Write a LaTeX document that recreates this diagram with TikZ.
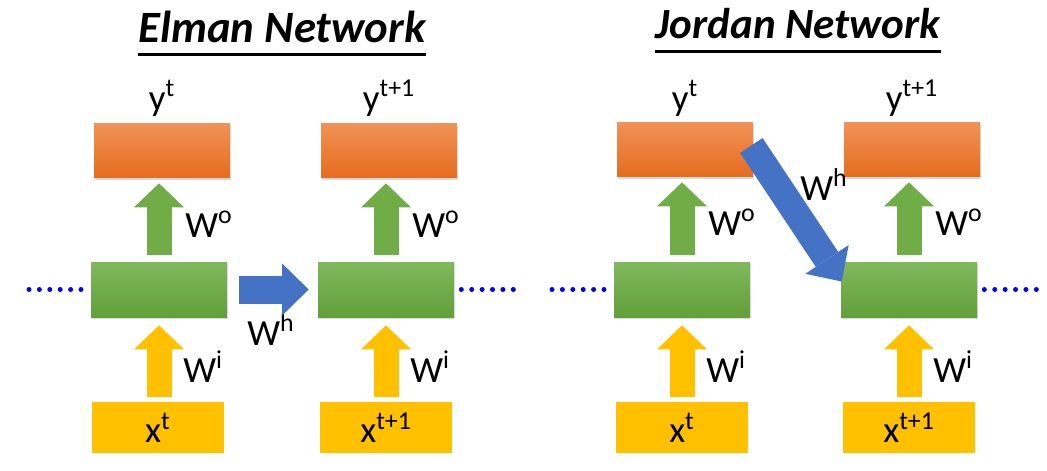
\documentclass[tikz,border=0pt]{standalone}
\usepackage{fontspec}
\setmainfont{Carlito}
\usetikzlibrary{arrows.meta,calc,positioning,shadows}

\definecolor{outtop}{RGB}{241,146,88}
\definecolor{outbot}{RGB}{229,108,30}
\definecolor{hidtop}{RGB}{128,184,92}
\definecolor{hidbot}{RGB}{98,160,58}
\definecolor{inyel}{RGB}{255,192,0}
\definecolor{arrgreen}{RGB}{112,173,71}
\definecolor{arrblue}{RGB}{68,114,196}

\begin{document}
\begin{tikzpicture}
		[x=0.02cm,y=-0.02cm,
		box/.style={shape=rectangle,inner sep=0pt,minimum width=2.72cm,minimum height=1.1cm},
		out node/.style={box,top color=outtop,bottom color=outbot,
			drop shadow={shadow xshift=0.4pt,shadow yshift=-1pt,fill=black!15,opacity=1}},
		hid node/.style={box,top color=hidtop,bottom color=hidbot,
			drop shadow={shadow xshift=0.4pt,shadow yshift=-1pt,fill=black!15,opacity=1}},
		in node/.style={box,fill=inyel,minimum width=2.64cm,minimum height=1.02cm,
			font=\fontsize{21}{25}\selectfont},
		lbl/.style={font=\fontsize{21}{25}\selectfont,inner sep=0pt},
		title/.style={font=\fontsize{24.5}{28}\selectfont\bfseries\itshape,inner sep=0pt},
		uline/.style={line width=0.05cm},
		up arrow/.style={line width=0.5cm,-{Triangle[width=1cm,length=0.48cm,line width=0pt]}},
		wh arrow/.style={color=arrblue,line width=0.56cm,-{Triangle[width=1.04cm,length=0.53cm,line width=0pt]}},
		dots/.style={draw=blue,line width=0.1cm,line cap=round,dash pattern=on 0pt off 0.208cm}
		]
		
		\useasboundingbox (0,0) rectangle (1047,470);
		
		% Elman network
		\node [title,anchor=base,font=\fontsize{25.5}{30}\selectfont\bfseries\itshape] (t1) at (282,42) {Elman Network};
		
		\node [out node] (o1) at (162,150.5) {};
		\node [out node] (o2) at (389,150.5) {};
		\node [hid node] (h1) at (159,289.5) {};
		\node [hid node] (h2) at (386,289.5) {};
		\node [in node] (i1) at (158,427.5) {x\textsuperscript{t}};
		\node [in node] (i2) at (386,427.5) {x\textsuperscript{t+1}};
		
		\node [lbl,anchor=base] (y1) at (162,110) {y\textsuperscript{t}};
		\node [lbl,anchor=base] (y2) at (389,110) {y\textsuperscript{t+1}};
		\node [lbl,anchor=base west] (wo1) at (185,237) {W\textsuperscript{o}};
		\node [lbl,anchor=base west] (wo2) at (412,237) {W\textsuperscript{o}};
		\node [lbl,anchor=base west] (wi1) at (183,382) {W\textsuperscript{i}};
		\node [lbl,anchor=base west] (wi2) at (410,382) {W\textsuperscript{i}};
		\node [lbl,anchor=base west] (wh1) at (247,345) {W\textsuperscript{h}};
		
		\coordinate (dl1) at (29,289.5);
		\coordinate (dr1) at (514,289.5);
		
		% Jordan network
		\node [title,anchor=base] (t2) at (798,38) {Jordan Network};
		
		\node [out node] (o3) at (685,149.5) {};
		\node [out node] (o4) at (912,149.5) {};
		\node [hid node] (h3) at (682,289.5) {};
		\node [hid node] (h4) at (909,289.5) {};
		\node [in node] (i3) at (682,427.5) {x\textsuperscript{t}};
		\node [in node] (i4) at (909,427.5) {x\textsuperscript{t+1}};
		
		\node [lbl,anchor=base] (y3) at (685,110) {y\textsuperscript{t}};
		\node [lbl,anchor=base] (y4) at (912,110) {y\textsuperscript{t+1}};
		\node [lbl,anchor=base west] (wo3) at (708,235) {W\textsuperscript{o}};
		\node [lbl,anchor=base west] (wo4) at (935,235) {W\textsuperscript{o}};
		\node [lbl,anchor=base west] (wi3) at (706,382) {W\textsuperscript{i}};
		\node [lbl,anchor=base west] (wi4) at (933,382) {W\textsuperscript{i}};
		\node [lbl,anchor=base west] (wh2) at (800,200) {W\textsuperscript{h}};
		
		\coordinate (dl2) at (552,289.5);
		\coordinate (dr2) at (1037,289.5);
		\coordinate (jt) at ($(o3.east)+(-2,-4)$);
		\coordinate (jh) at ($(h4.west)+(1,-8)$);
		
		% titles underlined
		\draw [uline] ([yshift=-0.25cm]t1.base west) -- ([yshift=-0.25cm]t1.base east);
		\draw [uline] ([yshift=-0.27cm]t2.base west) -- ([yshift=-0.27cm]t2.base east);
		
		% block arrows
		\path [up arrow,color=arrgreen]
		(h1.north) edge [shorten <=0.14cm,shorten >=0.1cm] (h1 |- o1.south)
		(h2.north) edge [shorten <=0.14cm,shorten >=0.1cm] (h2 |- o2.south)
		(h3.north) edge [shorten <=0.14cm,shorten >=0.1cm] (h3 |- o3.south)
		(h4.north) edge [shorten <=0.14cm,shorten >=0.1cm] (h4 |- o4.south)
		;
		\path [up arrow,color=inyel]
		(h1 |- i1.north) edge [shorten <=0.1cm,shorten >=0.16cm] (h1.south)
		(h2 |- i2.north) edge [shorten <=0.1cm,shorten >=0.16cm] (h2.south)
		(h3 |- i3.north) edge [shorten <=0.1cm,shorten >=0.16cm] (h3.south)
		(h4 |- i4.north) edge [shorten <=0.1cm,shorten >=0.16cm] (h4.south)
		;
		\path [wh arrow]
		(h1.east) edge [shorten <=0.24cm,shorten >=0.18cm] (h2.west)
		(jt) edge [line width=0.54cm] (jh)
		;
		
		% dots
		\path [dots]
		(dl1) edge [shorten >=0.16cm] (h1.west)
		(h2.east) edge [shorten <=0.14cm] (dr1)
		(dl2) edge [shorten >=0.18cm] (h3.west)
		(h4.east) edge [shorten <=0.14cm] (dr2)
		;
		
\end{tikzpicture}
\end{document}
